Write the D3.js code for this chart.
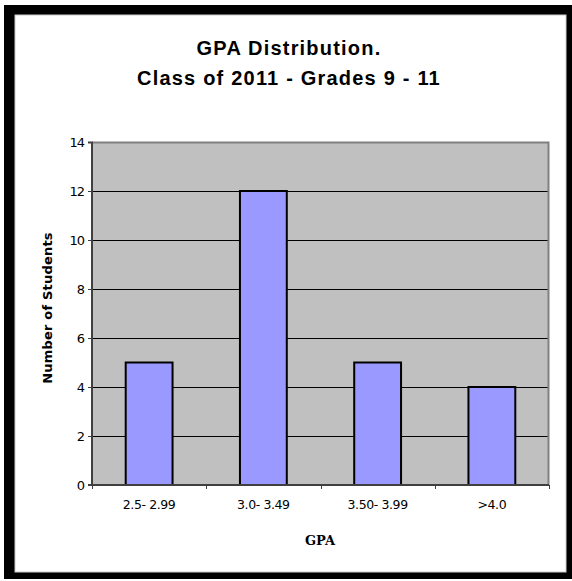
<!DOCTYPE html>
<html>
<head>
<meta charset="utf-8">
<script src="https://cdn.jsdelivr.net/npm/d3@7"></script>
<style>
  body { margin: 0; background: #fff; }
  svg { display: block; }
</style>
</head>
<body>
<script>
"use strict";

var categories = ['2.5- 2.99', '3.0- 3.49', '3.50- 3.99', '>4.0'];
var students = [5, 12, 5, 4];
var yTicks = [0, 2, 4, 6, 8, 10, 12, 14];
var titleLines = ['GPA Distribution.', 'Class of 2011 - Grades 9 - 11'];

var width = 572, height = 581;
var margin = { top: 142, right: 23, bottom: 96, left: 92 };
var plotW = width - margin.left - margin.right;
var plotH = height - margin.top - margin.bottom;

var svg = d3.select('body').append('svg')
    .attr('width', width)
    .attr('height', height);

// chart frame with its shadow
svg.append('rect')
    .attr('x', 4).attr('y', 5)
    .attr('width', 572).attr('height', 574)
    .attr('fill', '#000');
svg.append('rect')
    .attr('x', 15).attr('y', 15)
    .attr('width', 551).attr('height', 557)
    .attr('fill', '#fff')
    .attr('stroke', '#ccc')
    .attr('stroke-width', 1);

svg.selectAll('text.title')
    .data(titleLines)
    .enter()
    .append('text')
    .attr('class', 'title')
    .attr('x', 289)
    .attr('y', function(d, i) { return 55 + i * 30; })
    .attr('text-anchor', 'middle')
    .style('font-family', 'Liberation Sans, Arial, sans-serif')
    .style('font-weight', 'bold')
    .style('font-size', '20px')
    .style('letter-spacing', '1.2px')
    .text(function(d) { return d; });

var x = d3.scaleBand()
    .domain(categories)
    .range([0, plotW])
    .paddingInner(0.59)
    .paddingOuter(0.295);

var y = d3.scaleLinear()
    .domain([0, 14])
    .range([plotH, 0]);

var g = svg.append('g')
    .attr('transform', 'translate(' + margin.left + ',' + margin.top + ')');

g.append('rect')
    .attr('width', plotW)
    .attr('height', plotH)
    .attr('fill', '#c0c0c0');

// gridlines
g.selectAll('line.grid')
    .data(yTicks.filter(function(t) { return t > 0 && t < 14; }))
    .enter()
    .append('line')
    .attr('class', 'grid')
    .attr('x1', 0).attr('x2', plotW)
    .attr('y1', function(d) { return y(d) + 0.5; })
    .attr('y2', function(d) { return y(d) + 0.5; })
    .attr('stroke', '#000')
    .attr('stroke-width', 1);

// plot border (top and right)
g.append('path')
    .attr('d', 'M0,0.5H' + (plotW - 0.5) + 'V' + plotH)
    .attr('fill', 'none')
    .attr('stroke', '#808080')
    .attr('stroke-width', 2);

g.selectAll('rect.bar')
    .data(students)
    .enter()
    .append('rect')
    .attr('class', 'bar')
    .attr('x', function(d, i) { return x(categories[i]); })
    .attr('y', function(d) { return y(d); })
    .attr('width', x.bandwidth())
    .attr('height', function(d) { return plotH - y(d); })
    .attr('fill', '#9999ff')
    .attr('stroke', '#000')
    .attr('stroke-width', 2);

var yAxis = g.append('g')
    .call(d3.axisLeft(y).tickValues(yTicks).tickSize(4).tickPadding(4).tickFormat(d3.format('d')));
yAxis.select('.domain').attr('stroke', '#404040').attr('stroke-width', 2).attr('d', 'M-4,0.5H0V' + plotH + 'H-4');
yAxis.selectAll('.tick line').attr('stroke', '#404040');
yAxis.selectAll('text')
    .style('font-family', 'DejaVu Sans, Tahoma, sans-serif')
    .style('font-size', '13px')
    .style('letter-spacing', '-1px')
    .attr('fill', '#000');

// bottom axis: ticks between categories
var xAxis = g.append('g')
    .attr('transform', 'translate(0,' + plotH + ')');
xAxis.append('line')
    .attr('x1', 0).attr('x2', plotW)
    .attr('y1', 0).attr('y2', 0)
    .attr('stroke', '#404040')
    .attr('stroke-width', 2);
xAxis.selectAll('line.tick')
    .data(d3.range(categories.length + 1))
    .enter()
    .append('line')
    .attr('class', 'tick')
    .attr('x1', function(i) { return Math.round(i * x.step()) + 0.5; })
    .attr('x2', function(i) { return Math.round(i * x.step()) + 0.5; })
    .attr('y1', 0).attr('y2', 4)
    .attr('stroke', '#404040');
xAxis.selectAll('text.cat')
    .data(categories)
    .enter()
    .append('text')
    .attr('class', 'cat')
    .attr('x', function(d) { return x(d) + x.bandwidth() / 2; })
    .attr('y', 24)
    .attr('text-anchor', 'middle')
    .style('font-family', 'DejaVu Sans, Tahoma, sans-serif')
    .style('font-size', '12.5px')
    .style('letter-spacing', '-0.4px')
    .text(function(d) { return d; });

svg.append('text')
    .attr('x', 320)
    .attr('y', 545)
    .attr('text-anchor', 'middle')
    .style('font-family', 'DejaVu Serif, serif')
    .style('font-weight', 'bold')
    .style('font-size', '13px')
    .text('GPA');

svg.append('text')
    .attr('transform', 'translate(52,308) rotate(-90)')
    .attr('text-anchor', 'middle')
    .style('font-family', 'DejaVu Sans, sans-serif')
    .style('font-weight', 'bold')
    .style('font-size', '13px')
    .style('letter-spacing', '0.2px')
    .text('Number of Students');
</script>
</body>
</html>
